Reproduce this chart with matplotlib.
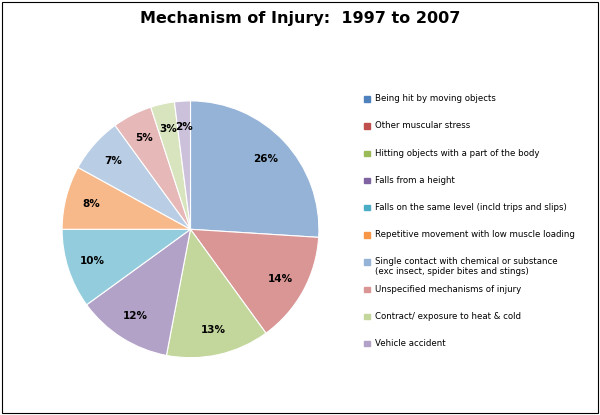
import matplotlib.pyplot as plt
from matplotlib.patches import Rectangle

labels = ['Being hit by moving objects', 'Other muscular stress',
          'Hitting objects with a part of the body', 'Falls from a height',
          'Falls on the same level (incld trips and slips)',
          'Repetitive movement with low muscle loading',
          'Single contact with chemical or substance\n(exc insect, spider bites and stings)',
          'Unspecified mechanisms of injury',
          'Contract/ exposure to heat & cold', 'Vehicle accident']
values = [26, 14, 13, 12, 10, 8, 7, 5, 3, 2]
colors = ['#95b3d7', '#d99694', '#c3d69b', '#b3a2c7', '#93cddd',
          '#f8b98a', '#b9cde5', '#e6b9b8', '#d7e4bd', '#ccc1da']
markers = ['#4f81bd', '#c0504d', '#9bbb59', '#8064a2', '#4bacc6',
           '#f79646', '#95b3d7', '#d99694', '#c3d69b', '#b3a2c7']

fig = plt.figure(figsize=(6, 4.15), dpi=100)
fig.patches.append(Rectangle((0.004, 0.004), 0.992, 0.99, transform=fig.transFigure,
                             fill=False, edgecolor='black', lw=0.8))
fig.text(0.5, 0.955, 'Mechanism of Injury:  1997 to 2007', ha='center', va='center',
         fontsize=11.5, fontweight='bold')

ax = fig.add_axes([0.05, 0.06, 0.535, 0.775])
wedges, texts = ax.pie(values, colors=colors, startangle=90, counterclock=False,
                       wedgeprops=dict(edgecolor='white', linewidth=0.8),
                       labels=[f'{v}%' for v in values], labeldistance=0.8,
                       textprops=dict(fontsize=7.5, fontweight='bold'))
for t in texts:
    t.set_ha('center')
    t.set_va('center')
ax.set_aspect('equal')

y = 0.762
for lab, m in zip(labels, markers):
    fig.patches.append(Rectangle((0.607, y - 0.007), 0.009, 0.013,
                                 transform=fig.transFigure, color=m))
    if '\n' in lab:
        fig.text(0.625, y + 0.012, lab, fontsize=6.2, va='top')
    else:
        fig.text(0.625, y, lab, fontsize=6.2, va='center')
    y -= 0.0655

fig.savefig('out.png')
